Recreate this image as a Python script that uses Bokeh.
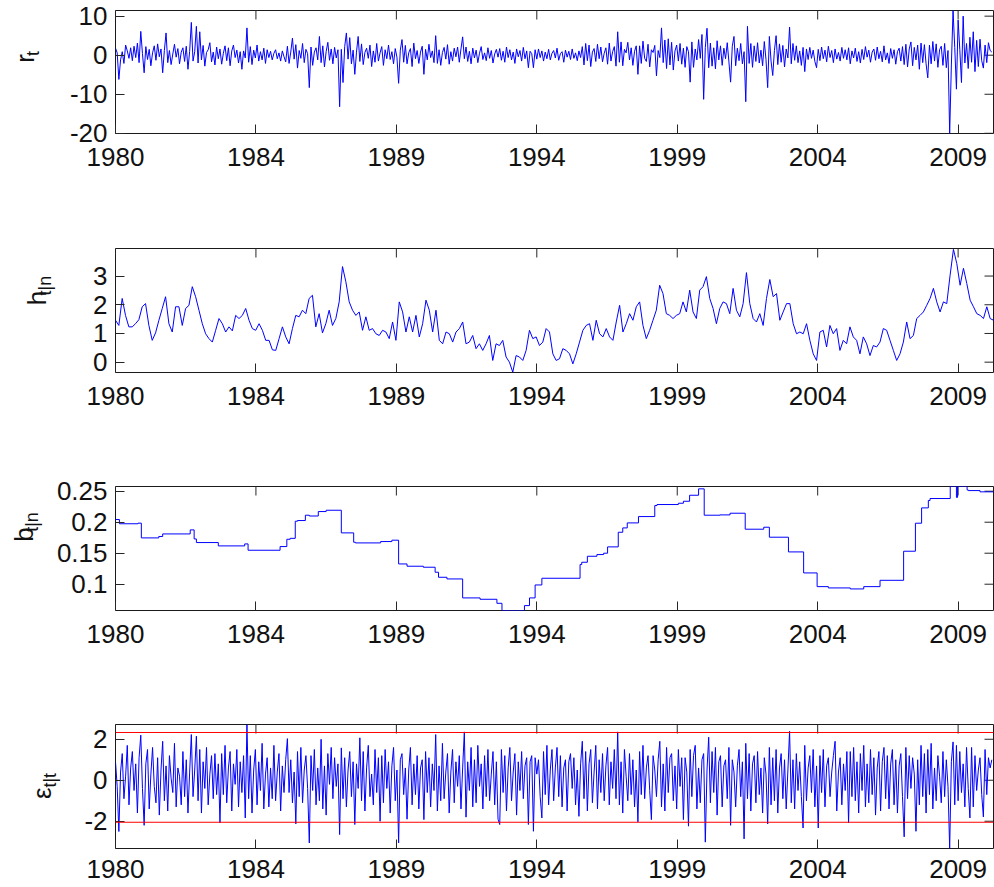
import numpy as np
from bokeh.plotting import figure
from bokeh.models import Range1d, FixedTicker, Span
from bokeh.layouts import column, row
from bokeh.core.properties import value
from bokeh.embed import file_html
from bokeh.resources import INLINE

FONT = "Liberation Sans"
TOTAL_WEEKS = 1563
x_tick_weeks = [0, 250, 500, 750, 1000, 1250, 1500]
x_tick_labels = ["1980", "1984", "1989", "1994", "1999", "2004", "2009"]

# weekly returns r_t, one value every 3 weeks
r_step = 3
r_t = [
    1.8, 0.6, -6.2, -1.2, 0.9, -2.1, 2.6, 1.1, -0.8, 1.9,
    -1.4, 2.3, -0.6, 3.1, -1.9, 6.1, 0.4, -4.5, 2.2, -1.1,
    1.5, -2.7, 0.6, 2.4, -1.3, 2.9, -0.4, 1.6, -4.5, 1.2,
    5.7, -1.9, 1.2, -2.4, 0.3, 2.8, -0.5, 1.7, -2.2, 0.8,
    1.9, -1.6, 2.3, -3.6, 1.0, 8.4, -1.5, 0.9, 7.4, -2.0,
    6.0, -1.2, 2.5, -2.8, 0.7, 1.4, 3.2, -1.7, 0.8, -2.5,
    2.1, -0.9, 1.6, -2.3, 0.5, 2.4, -1.4, 1.9, -2.7, 1.1,
    2.6, -0.6, 1.3, -2.0, 0.9, -3.6, 1.1, -0.7, 7.0, -1.8,
    2.2, -2.4, 1.3, -0.7, 2.6, -1.5, 0.9, -1.2, 1.8, -2.1,
    1.4, -0.6, 1.0, -1.2, 0.5, 1.4, -0.9, 0.6, -1.5, 1.1,
    -0.4, -1.7, 2.3, -2.1, 0.8, 4.4, -1.0, 2.7, -3.3, 1.2,
    -0.8, 3.0, -1.9, 1.5, 0.4, -8.3, 2.1, -2.6, 0.8, 1.9,
    -1.2, 4.8, -1.9, 2.4, -3.0, 0.9, 3.3, -1.3, 1.6, -2.2,
    2.0, -0.7, 1.4, -13.2, 1.5, -7.0, 2.2, 5.7, -1.0, 4.5,
    -2.2, 1.3, -4.9, 0.8, 4.8, -1.6, 2.9, -2.4, 0.7, 1.8,
    -0.8, 2.6, -2.9, 1.1, -1.8, 3.0, -1.5, 0.6, 2.2, -2.6,
    1.4, -0.9, 2.6, -1.1, 0.9, -2.2, 1.7, -0.5, -7.2, 1.3,
    4.0, -1.8, 2.5, -2.2, 0.6, 1.7, -2.9, 3.1, -0.9, 1.2,
    -2.1, 0.8, 2.3, -4.9, 1.5, -1.2, 2.8, -0.6, 1.1, -1.9,
    5.0, -2.1, 1.4, -2.6, 0.7, 2.0, -1.0, 2.7, -2.3, 0.9,
    -1.5, 1.8, -0.4, 2.1, -1.8, 1.6, 4.7, -0.9, 2.1, -1.6,
    1.0, -2.2, 1.8, -0.7, 1.3, -1.9, 0.5, 2.2, -1.1, 0.6,
    -1.4, 1.9, -0.8, 1.2, -2.0, 0.3, 1.5, -0.5, 1.7, -1.3,
    1.0, -1.8, 2.1, -0.6, 1.4, -1.2, 0.8, -2.1, 1.6, -0.4,
    1.2, -1.5, 2.0, -0.9, 1.1, -3.2, 1.0, 0.4, -3.2, 1.4,
    -1.0, 1.6, -0.6, 1.1, -1.5, 0.8, -0.9, 1.5, -1.2, 0.5,
    1.2, -0.7, 1.8, -1.3, 0.4, 0.9, -1.8, 1.3, -0.5, 1.0,
    -1.1, 1.6, -0.8, 0.6, -1.4, 1.1, -0.6, 2.2, -2.5, 3.0,
    -1.4, 2.6, -2.9, 0.8, 1.7, -1.6, 2.8, -0.9, 2.1, -1.7,
    0.5, 1.9, -2.3, 3.1, -1.5, 0.9, 2.2, -2.8, 6.0, -1.8,
    3.4, -2.7, 1.5, 0.6, 3.3, -1.2, 1.9, -2.6, 1.0, 2.4,
    -4.9, 2.4, -2.1, 3.6, -0.8, -1.6, 2.8, -3.0, 1.4, 0.7,
    2.5, -5.3, 1.2, -0.6, 7.0, -1.9, 3.9, -3.4, 4.2, -2.5,
    3.3, -3.8, 1.1, 2.6, -1.5, 3.0, -2.3, 1.8, -3.1, 2.2,
    0.9, -6.9, 3.4, -3.1, 1.6, -1.2, 4.0, -0.8, 5.3, -11.3,
    2.0, 6.9, -3.2, 3.1, -2.8, 1.9, -3.5, 3.7, -1.2, 2.4,
    -2.6, 1.8, -0.9, 3.2, -1.7, -6.9, 2.3, 4.8, -2.7, 1.8,
    -1.4, 3.0, -2.2, 0.9, -11.9, 7.4, -2.1, 3.0, -3.1, 2.4,
    -1.6, 3.2, -2.0, 1.3, -2.7, 3.5, -1.1, -8.3, 4.8, -1.5,
    -5.2, 1.2, 5.0, -2.4, 2.9, -1.8, 2.5, -3.0, 1.6, -0.7,
    7.2, -2.2, 3.0, -1.3, 2.4, -1.9, 1.1, -2.6, 2.0, -4.2,
    1.6, -1.1, 2.0, -0.8, 1.3, -1.6, -3.2, 1.5, -1.4, 2.1,
    -0.9, 1.3, -1.7, 2.3, -0.6, 1.2, -1.9, 1.6, -1.0, 0.7,
    -1.5, 2.0, -0.8, 1.4, -1.2, 1.9, -2.2, 1.1, -0.7, 1.8,
    -1.6, 0.9, -2.0, 1.5, -1.1, 2.2, -0.5, 1.3, -1.8, 0.8,
    1.6, -1.3, 2.1, -0.9, 1.0, -1.7, 2.4, -1.2, 0.6, -2.1,
    1.7, -0.8, 1.4, -2.3, 0.9, 1.8, -1.5, 2.2, -2.4, 2.8,
    -3.0, 1.6, 3.4, -2.7, 2.0, -1.2, 2.6, -3.6, 3.1, -1.9,
    2.7, -2.2, -5.8, 2.6, -2.2, 3.5, -1.5, 2.9, -3.1, 1.4,
    2.3, -2.6, 3.0, -3.2, 1.2, -20.05, -2.5, 11.45, 2.0, -8.7,
    9.0, 1.5, -7.0, 10.0, -2.0, 3.0, -3.4, 4.6, -1.8, 6.0,
    -4.2, 3.8, -2.9, 4.1, -1.4, -3.3, 2.6, -1.9, 3.2, 1.2,
    0.8,
]

# smoothed volatility h_{t|n}, evenly spread over the whole span
h_tn = [
    1.46, 1.28, 2.22, 1.63, 1.23, 1.23, 1.34, 1.48, 1.93, 2.04,
    1.28, 0.76, 1.02, 1.46, 1.87, 2.28, 1.34, 1.05, 1.93, 1.93,
    1.28, 1.87, 1.98, 2.63, 2.28, 1.81, 1.34, 0.99, 0.82, 0.70,
    1.11, 1.52, 1.34, 1.05, 1.23, 1.09, 1.63, 1.52, 1.63, 1.87,
    1.46, 1.17, 1.11, 1.34, 1.11, 0.76, 0.76, 0.43, 0.41, 0.82,
    1.23, 0.88, 0.64, 1.17, 1.63, 1.58, 1.81, 1.69, 2.22, 2.33,
    1.23, 1.69, 1.02, 1.34, 1.81, 1.28, 1.52, 2.10, 3.33, 2.80,
    2.10, 1.81, 1.63, 1.75, 1.11, 1.58, 1.11, 1.17, 0.99, 0.93,
    1.11, 1.05, 0.82, 1.40, 0.76, 2.10, 1.75, 1.05, 1.58,
    1.05, 1.63, 0.88, 1.34, 2.16, 1.81, 1.05, 1.81, 0.76, 0.64,
    1.05, 0.99, 0.70, 1.05, 1.17, 1.40, 0.64, 0.70, 0.93, 0.47,
    0.64, 0.41, 0.64, 0.93, 0.06, 0.64, 0.58, 0.76, 0.18, 0.00,
    -0.35, 0.23, 0.18, 0.06, 0.41, 1.11, 0.82, 0.88, 0.58, 0.70,
    1.17, 1.05, 0.29, 0.06, 0.12, 0.47, 0.41, 0.29, -0.06, 0.29,
    0.70, 1.11, 1.28, 1.34, 0.76, 1.46, 0.99, 0.88, 1.17, 0.88,
    0.76, 1.40, 1.98, 1.05, 1.34, 1.69, 1.46, 1.93, 2.10, 1.28,
    0.82, 1.11, 1.46, 1.81, 2.68, 2.39, 1.69, 1.63, 1.52, 1.63,
    1.69, 2.10, 1.75, 2.51, 1.75, 1.52, 2.51,
    2.63, 2.98, 2.22, 1.87, 1.34, 1.87, 2.10, 2.04, 1.69, 2.57,
    1.81, 1.58, 2.04, 3.12, 2.04, 1.52, 1.40, 1.69, 1.28, 2.22,
    2.88, 2.28, 2.39, 1.46, 1.75, 2.04, 2.04, 1.34, 0.99, 1.05,
    0.99, 1.34, 0.76, 0.29, 0.06, 1.05, 1.11, 0.53, 1.28, 0.99,
    1.17, 0.41, 0.76, 0.64, 1.23, 0.88, 0.76, 0.29, 0.88, 0.64,
    0.23, 0.58, 0.53, 0.70, 1.17, 1.11, 0.76, 0.41, 0.06, 0.29,
    0.70, 1.40, 0.82, 0.93, 1.52, 1.63, 1.75, 1.98, 2.22, 2.57,
    2.10, 1.75, 2.10, 2.04, 3.03, 3.93, 3.44, 2.68, 3.27, 2.74,
    2.16, 1.93, 1.69, 1.63, 1.52, 1.93, 1.52, 1.46,
]

# piecewise-constant b_{t|n}: week where each level starts, and the level
b_change_weeks = [
    0, 7, 40, 46, 77, 84, 133, 140, 144, 183,
    230, 236, 293, 305, 311, 320, 324, 338, 345, 361,
    375, 402, 424, 427, 472, 492, 504, 519, 548, 569,
    575, 590, 618, 649, 679, 688, 728, 737, 747, 759,
    827, 830, 840, 857, 869, 876, 895, 903, 911, 931,
    960, 964, 1002, 1011, 1022, 1038, 1048, 1076, 1094, 1121,
    1154, 1164, 1198, 1225, 1249, 1269, 1308, 1332, 1361, 1403,
    1424, 1435, 1447, 1450, 1486, 1497, 1499, 1516, 1518, 1539,
]
b_tn = [
    0.2043, 0.1975, 0.1985, 0.1747, 0.1770, 0.1811, 0.1876, 0.1730, 0.1672, 0.1618,
    0.1650, 0.1548, 0.1607, 0.1725, 0.1740, 0.2016, 0.2027, 0.2113, 0.2100, 0.2172,
    0.2193, 0.1828, 0.1677, 0.1666, 0.1688, 0.1710, 0.1327, 0.1290, 0.1274, 0.1193,
    0.1112, 0.1085, 0.0779, 0.0757, 0.0692, 0.0576, 0.0655, 0.0779, 0.0988, 0.1096,
    0.1317, 0.1354, 0.1451, 0.1478, 0.1500, 0.1602, 0.1838, 0.1908, 0.1989, 0.2091,
    0.2269, 0.2285, 0.2306, 0.2338, 0.2435, 0.2538, 0.2113, 0.2118, 0.2145, 0.1887,
    0.1919, 0.1758, 0.1521, 0.1182, 0.0961, 0.0940, 0.0924, 0.0961, 0.1063, 0.1532,
    0.1984, 0.2231, 0.2350, 0.2382, 0.2576, 0.2400, 0.2576, 0.2521, 0.2510, 0.2490,
]

# standardized residuals eps_{t|t}, one value every 3 weeks
eps_step = 3
eps_tt = [
    0.9, -0.3, -2.5, 0.4, 1.3, -0.9, 0.2, 1.7, -1.2, 0.6,
    1.4, -0.5, 0.8, -1.6, 1.1, 2.2, -0.4, -2.2, 0.8, 1.5,
    -1.4, 0.3, 1.6, -0.3, -1.1, 1.1, -1.7, 0.5, 1.9, -1.0,
    0.7, -1.5, 1.2, 0.1, -0.6, 1.8, -1.3, 0.6, 0.2, -1.2,
    1.4, -0.8, 1.0, -1.6, 0.4, 2.23, -0.8, 0.5, 2.15, -1.0,
    1.5, -1.6, 0.9, -0.4, 1.6, -1.2, 0.3, 1.2, -0.9, 1.3,
    -0.7, 0.8, -2.08, 1.3, -0.7, 1.7, -1.1, 0.6, 1.4, -1.5,
    0.8, -0.2, 1.5, -1.3, 0.9, -0.6, 1.2, -1.84, 2.72, -0.9,
    1.2, -1.6, 0.5, 1.5, -1.2, 0.9, -0.5, 1.8, -1.4, 0.3,
    1.1, -1.3, 0.6, -0.9, 1.7, -1.0, 0.4, 1.3, -1.5, 0.7,
    -0.6, 1.0, 2.03, -0.6, 1.0, -1.1, 0.4, -2.13, 1.4, -0.8,
    1.6, -1.1, 0.5, 1.2, -0.4, -3.06, 1.2, -0.5, 1.5, -1.2,
    0.6, -1.0, 2.0, -1.4, 0.7, -1.7, 1.3, -0.2, 1.6, -0.9,
    1.1, -0.3, 0.8, -2.65, 1.58, -0.9, 1.1, -1.3, 0.5, 1.4,
    -0.8, 0.9, -2.16, 0.8, -0.4, 2.07, -1.0, 1.4, -1.5, 0.6,
    1.7, -0.8, 0.3, -1.2, 1.5, -0.6, 1.1, -2.0, 1.2, -1.1,
    1.5, -0.4, 0.9, -1.6, 0.7, 1.6, -1.0, 0.5, -3.06, 1.0,
    1.3, -0.7, 0.6, -1.9, 0.5, 1.6, -1.2, 0.8, -0.7, 1.2,
    -1.4, 0.6, 1.0, -1.92, 1.4, -0.6, 1.1, -1.3, 0.8, -0.5,
    2.23, -1.5, 0.7, -1.0, 1.8, -0.9, 0.4, 1.3, -1.6, 0.4,
    1.5, -1.1, 0.9, -0.3, 1.2, -1.4, 0.6, 2.36, -1.8, 0.9,
    -0.5, 1.6, -1.3, 1.0, -1.1, 1.7, -0.3, 0.8, -1.4, 1.2,
    -0.8, 1.5, -1.0, 0.3, 1.4, -1.2, 0.9, -1.9, -2.16, 1.5,
    -0.6, 1.2, -1.5, 0.6, 1.6, -1.0, 0.4, 1.3, -1.7, 0.9,
    -0.5, 1.4, -0.9, 0.7, 1.1, -2.16, 0.9, 1.2, -2.49, 1.1,
    0.3, 1.0, -0.8, -1.84, 1.4, -0.7, 1.7, -1.2, 0.5, 1.5,
    -1.0, 0.6, 1.6, -0.8, 1.2, -1.3, 0.6, 1.0, -1.5, 0.9,
    1.3, -0.4, 1.1, -1.2, 0.5, -1.76, 0.8, 1.9, -0.9, 1.4,
    -1.5, 0.8, 1.5, -1.1, 0.4, 1.7, -1.4, 1.0, -0.6, 1.3,
    -1.0, 0.7, 1.6, -1.2, 0.9, -0.4, 1.5, -0.9, 2.36, -1.2,
    0.9, -1.6, 1.5, 0.2, -1.0, 1.3, -0.7, 1.0, -1.3, 0.5,
    -2.03, 1.4, -0.7, 1.7, -0.9, 0.6, 1.2, -0.5, -1.92, 1.2,
    0.5, -0.8, 1.0, 1.9, -1.3, 0.8, -1.5, 1.6, -0.6, 1.1,
    1.3, -1.0, 0.7, -1.4, 1.5, -0.3, 1.1, -1.92, 1.1, 0.4,
    -2.24, 1.5, -0.8, 1.2, 1.7, -1.4, 0.6, -1.1, 1.0, 1.3,
    -3.02, 0.5, 2.1, -1.1, 1.4, -0.6, 1.6, -1.7, 0.9, 1.2,
    -1.3, 0.7, 1.0, -0.9, 1.6, -2.2, 1.0, 0.4, -1.3, 0.7,
    1.5, -0.8, 0.9, -2.86, 1.8, -0.9, 1.3, -1.5, 0.8, 1.2,
    -1.1, 1.4, -0.7, 0.6, -1.6, 1.1, 0.3, -2.13, 1.6, -1.2,
    1.1, -1.0, 1.5, -1.6, 0.6, 1.3, -0.9, 1.0, -1.4, 0.5,
    2.39, -1.1, 1.0, -1.4, 1.3, -0.5, 0.9, -0.8, -2.33, 1.7,
    -1.0, 0.6, 1.2, -0.6, 1.5, -1.3, 0.7, -2.33, 1.2, -0.6,
    1.5, -1.3, 0.7, 1.1, -0.8, 0.4, 1.2, 1.9, -1.5, 0.4,
    1.1, -1.2, 0.8, -0.5, 1.4, -2.08, 1.4, -0.8, 1.6, -1.0,
    0.9, -1.6, 1.3, -0.5, 1.7, -1.3, 0.8, -1.1, 1.5, -0.7,
    1.1, -1.7, 0.6, 1.4, -1.5, 0.9, 1.6, -0.9, 1.2, -1.4,
    0.8, 1.5, -1.2, 1.0, -1.6, 0.7, 1.3, -0.8, -2.76, 1.6,
    -0.9, 1.2, -0.4, 1.1, 0.3, -2.49, 1.0, -1.2, 1.7, -0.8,
    1.3, -1.6, 1.5, -0.7, 1.8, -1.4, 0.6, -1.0, 1.2, 0.2,
    -1.1, 1.4, -0.8, 1.0, -0.3, -3.33, 0.9, 1.87, -1.2, 1.7,
    -1.0, 1.4, -0.6, 0.8, -1.3, 1.6, -0.4, -1.84, 1.6, -1.3,
    1.2, -0.5, 0.5, 1.1, -0.7, -1.79, 1.5, -0.7, 1.1, 0.6,
    1.0,
]
eps_bands = [2.33, -2.05]

r_yticks, r_ylabels = [-20, -10, 0, 10], ["-20", "-10", "0", "10"]
h_yticks, h_ylabels = [0, 1, 2, 3], ["0", "1", "2", "3"]
b_yticks, b_ylabels = [0.1, 0.15, 0.2, 0.25], ["0.1", "0.15", "0.2", "0.25"]
e_yticks, e_ylabels = [-2, 0, 2], ["-2", "0", "2"]

BLUE = "#0000ff"
AXC = "#262626"
TXT = "#111111"
FIG_W = 994
FRAME_LEFT = 115


def style_axis(ax, standoff):
    ax.axis_line_color = None
    ax.major_tick_in = 9
    ax.major_tick_out = 0
    ax.major_tick_line_color = AXC
    ax.major_tick_line_width = 1
    ax.minor_tick_line_color = None
    ax.major_label_text_font = FONT
    ax.major_label_text_font_size = "26px"
    ax.major_label_text_color = TXT
    ax.major_label_standoff = standoff


def make_panel(lab_w, height, top, bottom, ylim, yticks, ylabels, xstandoff=14):
    p = figure(width=FIG_W - lab_w, height=height, x_range=Range1d(0, TOTAL_WEEKS),
               y_range=Range1d(*ylim), output_backend="svg", toolbar_location=None,
               min_border_left=FRAME_LEFT - lab_w, min_border_right=1,
               min_border_top=top, min_border_bottom=bottom)
    p.xgrid.visible = False
    p.ygrid.visible = False
    p.outline_line_color = "#1a1a1a"
    p.outline_line_width = 1
    p.xaxis.ticker = FixedTicker(ticks=x_tick_weeks)
    p.yaxis.ticker = FixedTicker(ticks=yticks)
    p.xaxis.major_label_overrides = dict(zip(x_tick_weeks, x_tick_labels))
    p.yaxis.major_label_overrides = dict(zip(yticks, ylabels))
    style_axis(p.xaxis[0], xstandoff)
    style_axis(p.yaxis[0], 8)
    # mirrored inward ticks on the top and right edges (half of each dash is clipped)
    p.scatter(x_tick_weeks, [ylim[1]] * len(x_tick_weeks), marker="dash", size=18,
              angle=np.pi / 2, line_color=AXC, line_width=1)
    p.scatter([TOTAL_WEEKS] * len(yticks), yticks, marker="dash", size=18,
              line_color=AXC, line_width=1)
    return p


def make_label_fig(lab_w, height, main, sub, main_xy, sub_xy):
    # rotated y-axis title (main symbol plus smaller subscript), drawn in a strip
    # left of the panel; positions are measured from the strip's top-left corner
    q = figure(width=lab_w, height=height, x_range=Range1d(0, lab_w),
               y_range=Range1d(0, height), output_backend="svg",
               toolbar_location=None, x_axis_type=None, y_axis_type=None,
               min_border=0)
    q.outline_line_color = None
    q.xgrid.visible = False
    q.ygrid.visible = False
    q.text(x=[main_xy[0]], y=[height - main_xy[1]], text=[main], angle=np.pi / 2,
           text_font=value(FONT), text_font_size="26px", text_color=TXT,
           text_align="left", text_baseline="top")
    q.text(x=[sub_xy[0]], y=[height - sub_xy[1]], text=[sub], angle=np.pi / 2,
           text_font=value(FONT), text_font_size="18px", text_color=TXT,
           text_align="left", text_baseline="top")
    return q


# panel 1: r_t
LW1 = 55
p1 = make_panel(LW1, 238, 10, 105, (-20.05, 11.45), r_yticks, r_ylabels)
p1.line(np.arange(len(r_t)) * r_step, r_t, line_color=BLUE, line_width=1)
q1 = make_label_fig(LW1, 238, "r", "t", (9.5, 101), (22.5, 88))

# panel 2: h_{t|n}
LW2 = 70
p2 = make_panel(LW2, 238, 10, 104, (-0.36, 3.96), h_yticks, h_ylabels)
p2.line(np.linspace(0, TOTAL_WEEKS, len(h_tn)), h_tn, line_color=BLUE, line_width=1)
q2 = make_label_fig(LW2, 238, "h", "t|n", (21.5, 109), (34.5, 90))

# panel 3: b_{t|n}
LW3 = 48
p3 = make_panel(LW3, 238, 10, 104, (0.0576, 0.2576), b_yticks, b_ylabels)
p3.step(b_change_weeks + [TOTAL_WEEKS], b_tn + [b_tn[-1]], mode="after",
        line_color=BLUE, line_width=1)
q3 = make_label_fig(LW3, 238, "b", "t|n", (8.5, 106), (21.5, 87))

# panel 4: eps_{t|t}
LW4 = 70
p4 = make_panel(LW4, 173, 10, 39, (-3.33, 2.72), e_yticks, e_ylabels, xstandoff=11)
p4.line(np.arange(len(eps_tt)) * eps_step, eps_tt, line_color=BLUE, line_width=1)
for lvl in eps_bands:
    p4.add_layout(Span(location=lvl, dimension="width", line_color="#ff0000", line_width=1))
q4 = make_label_fig(LW4, 173, "\u03b5", "t|t", (26.5, 104), (39.5, 88))

layout = column(row(q1, p1), row(q2, p2), row(q3, p3), row(q4, p4))
open("out.html", "w").write(file_html(layout, INLINE))
